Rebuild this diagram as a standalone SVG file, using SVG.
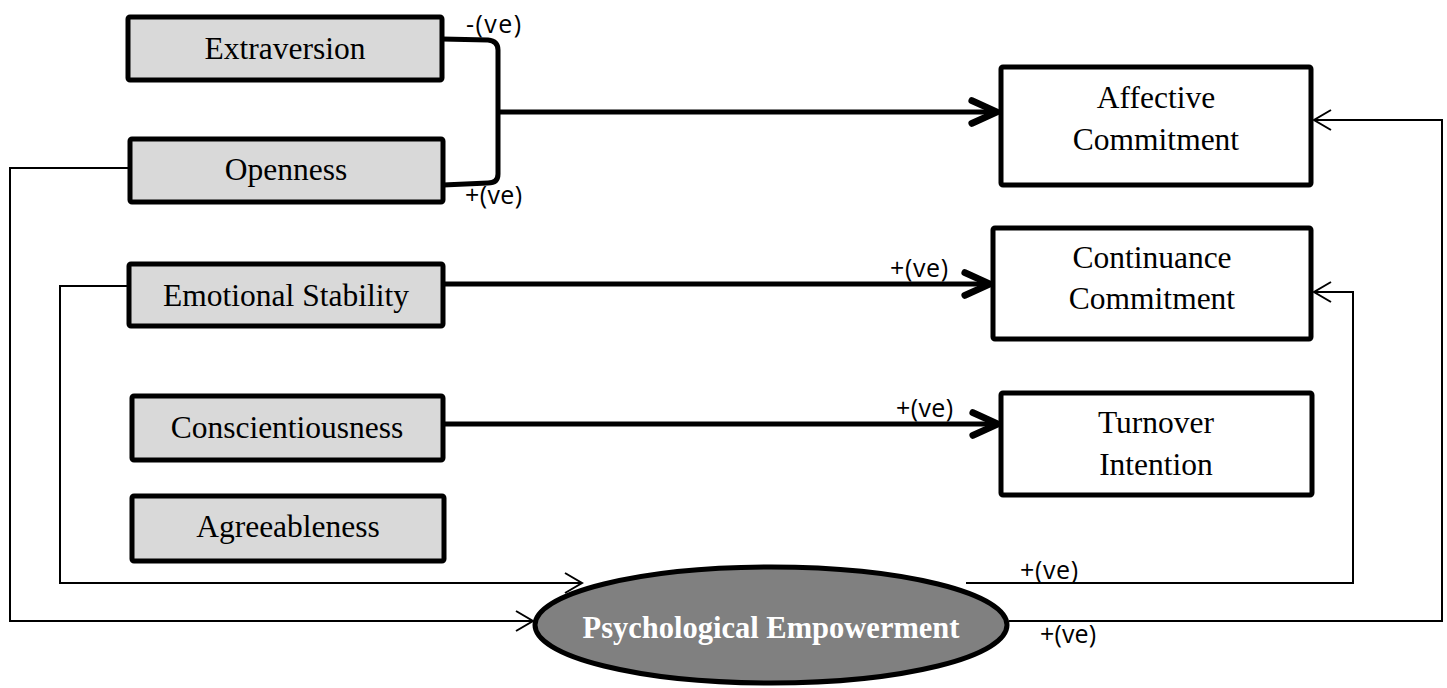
<svg xmlns="http://www.w3.org/2000/svg" width="1447" height="688" viewBox="0 0 1447 688">
<style>
.box{fill:#d9d9d9;stroke:#000;stroke-width:5}
.obox{fill:#fff;stroke:#000;stroke-width:5}
.t{font-family:"Liberation Serif","Times New Roman",serif;font-size:31.5px;fill:#000;text-anchor:middle}
.pe{font-family:"Liberation Serif","Times New Roman",serif;font-size:30.5px;font-weight:bold;fill:#fff;text-anchor:middle}
.lbl{font-family:"Open Sans","Lato",sans-serif;font-size:25px;fill:#000}
.bold{fill:none;stroke:#000;stroke-width:5}
.thin{fill:none;stroke:#000;stroke-width:2}
</style>
<defs>
<marker id="ab" markerUnits="userSpaceOnUse" markerWidth="40" markerHeight="40" viewBox="-30 -15 35 30" refX="0" refY="0" orient="auto" overflow="visible">
<path d="M-22,-10 L0,0 L-22,10" fill="none" stroke="#000" stroke-width="6" stroke-linecap="round" stroke-linejoin="round"/>
</marker>
<marker id="at" markerUnits="userSpaceOnUse" markerWidth="30" markerHeight="30" viewBox="-25 -12 30 24" refX="0" refY="0" orient="auto" overflow="visible">
<path d="M-17,-10 L0,0 L-17,10" fill="none" stroke="#000" stroke-width="2"/>
</marker>
</defs>

<g id="connectors">
<path class="bold" d="M442,39 L488,40 Q498,41 498,50 L498,174 Q498,183 488,183 L443,185"/>
<path class="bold" d="M498,112 L997,112" marker-end="url(#ab)"/>
<path class="bold" d="M443,284 L990,284" marker-end="url(#ab)"/>
<path class="bold" d="M443,424 L998,424" marker-end="url(#ab)"/>
<path class="thin" d="M128,168 L10,168 L10,621 L533,621" marker-end="url(#at)"/>
<path class="thin" d="M128,286 L60,286 L60,583 L582,583" marker-end="url(#at)"/>
<path class="thin" d="M966,583 L1353,583 L1353,292 L1314,292" marker-end="url(#at)"/>
<path class="thin" d="M1009,621 L1442,621 L1442,120 L1314,120" marker-end="url(#at)"/>
<text class="lbl" x="466" y="33" textLength="55" lengthAdjust="spacing">-(ve)</text>
<text class="lbl" x="465" y="204" textLength="57" lengthAdjust="spacing">+(ve)</text>
<text class="lbl" x="890" y="277" textLength="58" lengthAdjust="spacing">+(ve)</text>
<text class="lbl" x="896" y="417" textLength="57" lengthAdjust="spacing">+(ve)</text>
<text class="lbl" x="1020" y="579" textLength="58" lengthAdjust="spacing">+(ve)</text>
<text class="lbl" x="1040" y="643" textLength="56" lengthAdjust="spacing">+(ve)</text>
</g>

<g id="extraversion">
<rect class="box" x="128" y="17" width="314" height="63" rx="2"/>
<text class="t" x="285" y="59">Extraversion</text>
</g>
<g id="openness">
<rect class="box" x="130" y="139" width="313" height="63" rx="2"/>
<text class="t" x="286" y="180">Openness</text>
</g>
<g id="emotional-stability">
<rect class="box" x="129" y="264" width="314" height="62" rx="2"/>
<text class="t" x="286" y="306">Emotional Stability</text>
</g>
<g id="conscientiousness">
<rect class="box" x="132" y="396" width="311" height="64" rx="2"/>
<text class="t" x="287" y="438">Conscientiousness</text>
</g>
<g id="agreeableness">
<rect class="box" x="132" y="496" width="312" height="65" rx="2"/>
<text class="t" x="288" y="537">Agreeableness</text>
</g>
<g id="affective-commitment">
<rect class="obox" x="1001" y="67" width="310" height="118" rx="2"/>
<text class="t" x="1156" y="108">Affective</text>
<text class="t" x="1156" y="150">Commitment</text>
</g>
<g id="continuance-commitment">
<rect class="obox" x="993" y="228" width="318" height="111" rx="2"/>
<text class="t" x="1152" y="268">Continuance</text>
<text class="t" x="1152" y="309">Commitment</text>
</g>
<g id="turnover-intention">
<rect class="obox" x="1001" y="393" width="311" height="102" rx="2"/>
<text class="t" x="1156" y="433">Turnover</text>
<text class="t" x="1156" y="475">Intention</text>
</g>
<g id="psychological-empowerment">
<ellipse cx="771" cy="625" rx="236" ry="58" fill="#808080" stroke="#000" stroke-width="5"/>
<text class="pe" x="771" y="638">Psychological Empowerment</text>
</g>
</svg>
